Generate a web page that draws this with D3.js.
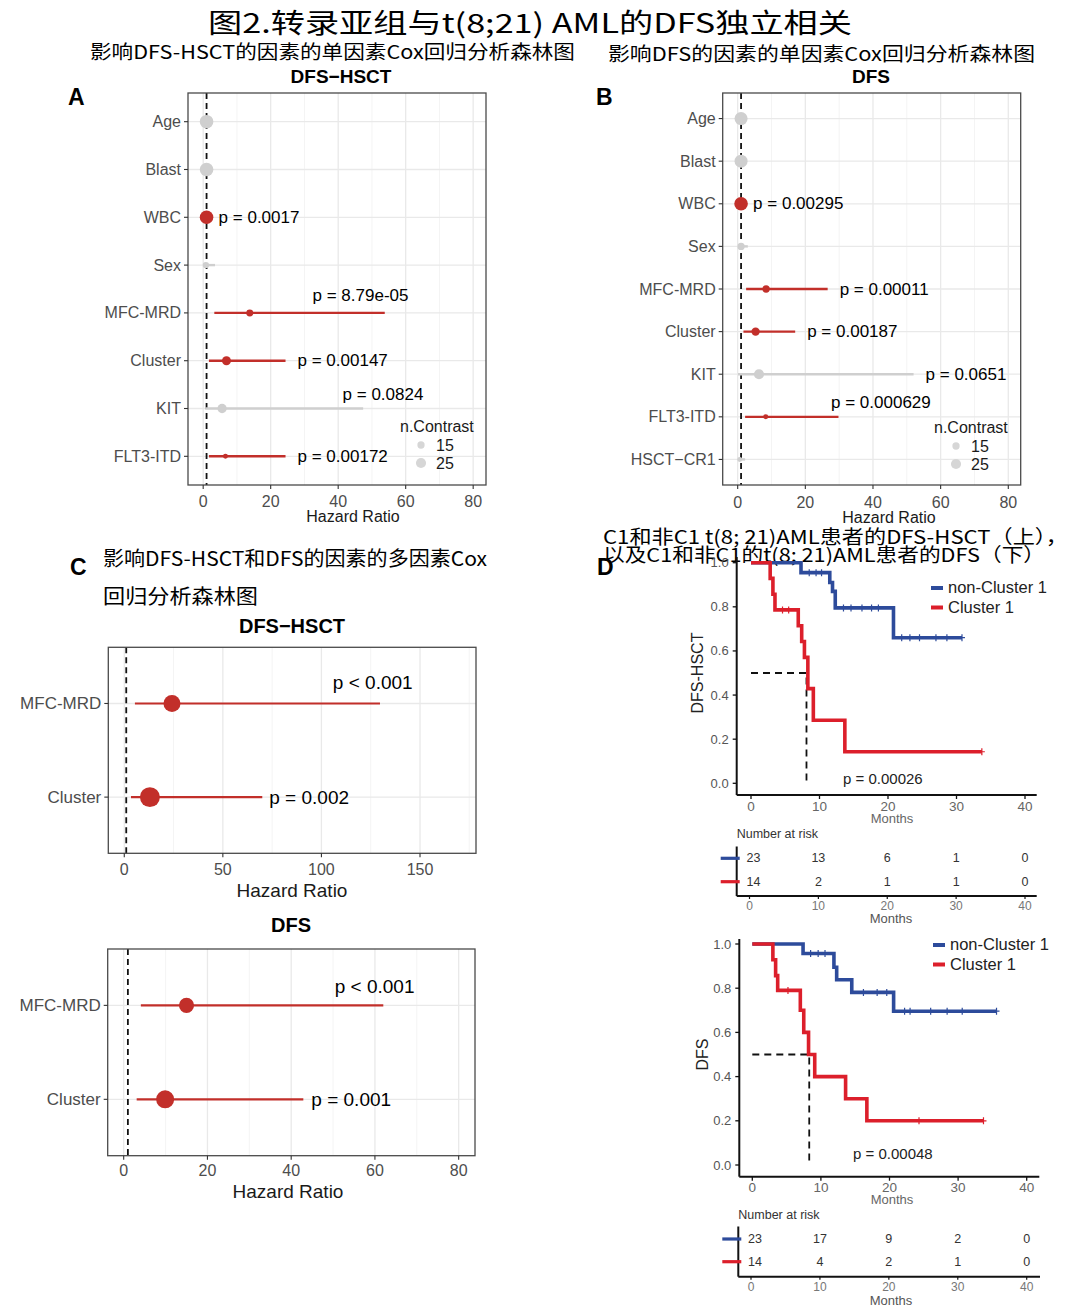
<!DOCTYPE html>
<html><head><meta charset="utf-8">
<script src="https://cdn.jsdelivr.net/npm/d3@7"></script>
<style>body{margin:0;background:#fff}</style>
</head><body>
<svg id="c" width="1080" height="1309"></svg>
<script>
// ---------------- DATA ----------------
const catsA = ["Age","Blast","WBC","Sex","MFC-MRD","Cluster","KIT","FLT3-ITD"];
const hrA   = [1.0, 1.0, 1.0, 0.8, 13.8, 6.9, 5.6, 6.6];
const loA   = [0.98,0.97,0.99,0.3, 3.3, 1.7, 0.6, 1.7];
const hiA   = [1.02,1.03,1.01,3.5, 53.8,24.4,47.4,24.4];
const nA    = [37, 37, 37, 12, 14, 21, 22, 7];
const sigA  = [false,false,true,false,true,true,false,true];
const pA    = ["","","p = 0.0017","","p = 8.79e-05","p = 0.00147","p = 0.0824","p = 0.00172"];

const catsB = ["Age","Blast","WBC","Sex","MFC-MRD","Cluster","KIT","FLT3-ITD","HSCT\u2212CR1"];
const hrB   = [1.0, 1.0, 1.0, 1.0, 8.4, 5.3, 6.3, 8.3, 0.6];
const loB   = [0.98,0.97,0.99,0.4, 2.5, 1.7, 0.1, 2.2, 0.2];
const hiB   = [1.02,1.03,1.01,3.0, 26.6,17.0,52.0,29.8,2.2];
const nB    = [35, 35, 37, 15, 15, 19, 25, 7, 7];
const sigB  = [false,false,true,false,true,true,false,true,false];
const pB    = ["","","p = 0.00295","","p = 0.00011","p = 0.00187","p = 0.0651","p = 0.000629",""];

const legendN = [15, 25];

const catsC  = ["MFC-MRD","Cluster"];
const hrC1   = [24.2, 13.0];
const loC1   = [5.4, 3.4];
const hiC1   = [129.7, 70.0];
const nC1    = [24, 33];
const pC1    = ["p < 0.001","p = 0.002"];
const hrC2   = [15.0, 9.9];
const loC2   = [4.1, 3.1];
const hiC2   = [62.0, 42.9];
const nC2    = [19, 27];
const pC2    = ["p < 0.001","p = 0.001"];

// Kaplan-Meier steps (time, survival after event)
const kmTopNonT = [0, 7.3, 11.5, 11.9, 12.3, 20.8];
const kmTopNonS = [1, 0.955, 0.91, 0.87, 0.795, 0.66];
const kmTopNonEnd = 30.8;
const kmTopNonCens = [8.5, 9.5, 10.3, 13.5, 14.6, 16.2, 17.6, 18.6, 22, 23.2, 24.6, 27, 28.6, 30.8];
const kmTopC1T = [0, 2.8, 3.2, 3.5, 6.9, 7.4, 7.8, 8.3, 9.1, 13.7];
const kmTopC1S = [1, 0.929, 0.857, 0.786, 0.714, 0.643, 0.571, 0.429, 0.286, 0.143];
const kmTopC1End = 33.7;
const kmTopC1Cens = [4.6, 5.5, 33.7];

const kmBotNonT = [0, 7.4, 11.9, 12.3, 14.5, 20.6];
const kmBotNonS = [1, 0.957, 0.895, 0.838, 0.781, 0.696];
const kmBotNonEnd = 35.6;
const kmBotNonCens = [8.5, 9.6, 10.6, 16.2, 18.2, 19.6, 22.2, 23, 26, 28.4, 30.6, 35.6];
const kmBotC1T = [0, 3.0, 3.4, 3.7, 7.0, 7.5, 8.2, 9.1, 13.6, 16.7];
const kmBotC1S = [1, 0.929, 0.857, 0.79, 0.70, 0.60, 0.50, 0.40, 0.30, 0.20];
const kmBotC1End = 33.7;
const kmBotC1Cens = [5.2, 24.3, 33.7];

const medianTop = 8.1, medianBot = 8.3;
const pKmTop = "p = 0.00026", pKmBot = "p = 0.00048";

const riskTimes = [0, 10, 20, 30, 40];
const riskTopNon = [23, 13, 6, 1, 0];
const riskTopC1  = [14, 2, 1, 1, 0];
const riskBotNon = [23, 17, 9, 2, 0];
const riskBotC1  = [14, 4, 2, 1, 0];
const kmTicksX = [0, 10, 20, 30, 40];
const kmTicksY = [0, 0.2, 0.4, 0.6, 0.8, 1.0];
const seriesNames = ["non-Cluster 1", "Cluster 1"];

// ---------------- STYLE ----------------
const svg = d3.select("#c");
const FONT = "'Liberation Sans', Arial, sans-serif";
const CJK = "'Noto Sans CJK SC', sans-serif";
const RED = "#c22f2a", GRAY = "#cfcfcf";
const KMRED = "#dc1f2b", KMBLUE = "#2d4b9b";

function txt(g, s, x, y, o = {}) {
  const t = g.append("text").attr("x", x).attr("y", y).text(s)
    .attr("font-family", o.ff || FONT).attr("font-size", o.fs || 15)
    .attr("fill", o.fill || "#000").attr("text-anchor", o.anchor || "start")
    .attr("dominant-baseline", "central");
  if (o.bold) t.attr("font-weight", "bold");
  if (o.len) t.attr("textLength", o.len).attr("lengthAdjust", "spacingAndGlyphs");
  if (o.rot) t.attr("transform", `rotate(${o.rot},${x},${y})`);
  return t;
}

// ---------------- HEADINGS ----------------
txt(svg, "图2.转录亚组与t(8;21) AML的DFS独立相关", 208, 21, {ff: CJK, fs: 27, len: 644});
txt(svg, "影响DFS-HSCT的因素的单因素Cox回归分析森林图", 90, 50, {ff: CJK, fs: 19, len: 485});
txt(svg, "影响DFS的因素的单因素Cox回归分析森林图", 608, 52, {ff: CJK, fs: 19, len: 427});
txt(svg, "A", 68, 97, {fs: 23, bold: true});
txt(svg, "B", 596, 97, {fs: 23, bold: true});
txt(svg, "DFS\u2212HSCT", 341, 76, {fs: 19, bold: true, anchor: "middle"});
txt(svg, "DFS", 871, 76, {fs: 19, bold: true, anchor: "middle"});

// ---------------- FOREST ----------------
function forest(cfg) {
  const g = svg.append("g");
  const x = d3.scaleLinear().domain(cfg.xDomain).range([cfg.left, cfg.right]);
  const y = d3.scalePoint().domain(cfg.cats).range([cfg.top, cfg.bottom]).padding(0.6);
  const r = cfg.rScale;
  g.append("rect").attr("x", cfg.left).attr("y", cfg.top).attr("width", cfg.right - cfg.left)
    .attr("height", cfg.bottom - cfg.top).attr("fill", "#fff");
  g.selectAll(".mi").data(cfg.minor).join("line")
    .attr("x1", d => x(d)).attr("x2", d => x(d)).attr("y1", cfg.top).attr("y2", cfg.bottom)
    .attr("stroke", "#f3f3f3").attr("stroke-width", 0.9);
  g.selectAll(".ma").data(cfg.ticks).join("line")
    .attr("x1", d => x(d)).attr("x2", d => x(d)).attr("y1", cfg.top).attr("y2", cfg.bottom)
    .attr("stroke", "#e9e9e9").attr("stroke-width", 1.3);
  g.selectAll(".hz").data(cfg.cats).join("line")
    .attr("x1", cfg.left).attr("x2", cfg.right).attr("y1", d => y(d)).attr("y2", d => y(d))
    .attr("stroke", "#e9e9e9").attr("stroke-width", 1.3);
  g.append("line").attr("x1", x(1)).attr("x2", x(1)).attr("y1", cfg.top).attr("y2", cfg.bottom)
    .attr("stroke", "#111").attr("stroke-width", 1.8).attr("stroke-dasharray", "6,4");
  const idx = d3.range(cfg.cats.length);
  g.selectAll(".ci").data(idx).join("line")
    .attr("x1", i => x(cfg.lo[i])).attr("x2", i => x(cfg.hi[i]))
    .attr("y1", i => y(cfg.cats[i])).attr("y2", i => y(cfg.cats[i]))
    .attr("stroke", i => cfg.sig[i] ? RED : GRAY).attr("stroke-width", cfg.lw);
  g.selectAll(".pt").data(idx).join("circle")
    .attr("cx", i => x(cfg.hr[i])).attr("cy", i => y(cfg.cats[i])).attr("r", i => r(cfg.n[i]))
    .attr("fill", i => cfg.sig[i] ? RED : GRAY);
  // p labels
  idx.forEach(i => {
    if (!cfg.p[i]) return;
    const ab = cfg.above[i];
    if (ab) txt(g, cfg.p[i], x(ab[0]), y(cfg.cats[i]) + ab[1], {fs: cfg.pfs});
    else txt(g, cfg.p[i], x(cfg.hi[i]) + cfg.gap, y(cfg.cats[i]), {fs: cfg.pfs});
  });
  g.append("rect").attr("x", cfg.left).attr("y", cfg.top).attr("width", cfg.right - cfg.left)
    .attr("height", cfg.bottom - cfg.top).attr("fill", "none").attr("stroke", "#4a4a4a").attr("stroke-width", 1.3);
  // axes
  g.selectAll(".tk").data(cfg.ticks).join("line")
    .attr("x1", d => x(d)).attr("x2", d => x(d)).attr("y1", cfg.bottom).attr("y2", cfg.bottom + 4)
    .attr("stroke", "#333").attr("stroke-width", 1.1);
  cfg.ticks.forEach(d => txt(g, String(d), x(d), cfg.tickY, {fs: cfg.tfs, fill: "#4d4d4d", anchor: "middle"}));
  cfg.cats.forEach(c => {
    g.append("line").attr("x1", cfg.left - 4).attr("x2", cfg.left).attr("y1", y(c)).attr("y2", y(c))
      .attr("stroke", "#333").attr("stroke-width", 1.1);
    txt(g, c, cfg.left - 7, y(c), {fs: cfg.yfs, fill: "#4d4d4d", anchor: "end"});
  });
  txt(g, "Hazard Ratio", cfg.xlabX, cfg.xlabY, {fs: cfg.xlfs, fill: "#1a1a1a", anchor: "middle"});
  if (cfg.legend) {
    const L = cfg.legend;
    txt(g, "n.Contrast", L.x, L.y, {fs: 16, fill: "#1a1a1a"});
    legendN.forEach((v, k) => {
      g.append("circle").attr("cx", L.cx).attr("cy", L.y + 19 + k * 18).attr("r", r(v)).attr("fill", "#d6d6d6");
      txt(g, String(v), L.cx + 15, L.y + 19 + k * 18, {fs: 16, fill: "#1a1a1a"});
    });
  }
}

const rAB = d3.scaleLinear().domain([5, 37]).range([2.2, 6.8]);
forest({cats: catsA, hr: hrA, lo: loA, hi: hiA, n: nA, sig: sigA, p: pA,
  above: {4: [32.4, -17], 6: [41.3, -14]}, gap: 12, lw: 2.4,
  left: 188, right: 486, top: 93, bottom: 485, xDomain: [-4.5, 83.8],
  ticks: [0, 20, 40, 60, 80], minor: [10, 30, 50, 70], tickY: 501,
  rScale: rAB, pfs: 17, tfs: 16, yfs: 16, xlfs: 16, xlabX: 353, xlabY: 516,
  legend: {x: 400, y: 426, cx: 421}});
forest({cats: catsB, hr: hrB, lo: loB, hi: hiB, n: nB, sig: sigB, p: pB,
  above: {7: [27.6, -14]}, gap: 12, lw: 2.4,
  left: 722.7, right: 1020.7, top: 93, bottom: 485, xDomain: [-4.43, 83.67],
  ticks: [0, 20, 40, 60, 80], minor: [10, 30, 50, 70], tickY: 502,
  rScale: rAB, pfs: 17, tfs: 16, yfs: 16, xlfs: 16, xlabX: 889, xlabY: 517,
  legend: {x: 934, y: 427, cx: 956}});

// Panel C
txt(svg, "C", 70, 567, {fs: 23, bold: true});
txt(svg, "影响DFS-HSCT和DFS的因素的多因素Cox", 103, 557, {ff: CJK, fs: 20, len: 384});
txt(svg, "回归分析森林图", 103, 595, {ff: CJK, fs: 20, len: 155});
txt(svg, "DFS\u2212HSCT", 292, 626, {fs: 20, bold: true, anchor: "middle"});
txt(svg, "DFS", 291, 925, {fs: 20, bold: true, anchor: "middle"});
const rC = d3.scaleSqrt().domain([0, 40]).range([0, 11]);
forest({cats: catsC, hr: hrC1, lo: loC1, hi: hiC1, n: nC1, sig: [true, true], p: pC1,
  above: {0: [105.8, -21]}, gap: 7, lw: 2.2,
  left: 108.3, right: 476, top: 647.3, bottom: 853.3, xDomain: [-8.1, 178.4],
  ticks: [0, 50, 100, 150], minor: [25, 75, 125, 175], tickY: 869,
  rScale: rC, pfs: 19, tfs: 16, yfs: 17, xlfs: 19, xlabX: 292, xlabY: 890});
forest({cats: catsC, hr: hrC2, lo: loC2, hi: hiC2, n: nC2, sig: [true, true], p: pC2,
  above: {0: [50.4, -19]}, gap: 8, lw: 2.2,
  left: 107.7, right: 475, top: 949, bottom: 1155.7, xDomain: [-3.82, 83.9],
  ticks: [0, 20, 40, 60, 80], minor: [10, 30, 50, 70], tickY: 1170,
  rScale: rC, pfs: 19, tfs: 16, yfs: 17, xlfs: 19, xlabX: 288, xlabY: 1191});

// ---------------- KAPLAN-MEIER ----------------
txt(svg, "C1和非C1 t(8; 21)AML患者的DFS-HSCT（上），", 603, 535, {ff: CJK, fs: 19, len: 465});
txt(svg, "以及C1和非C1的t(8; 21)AML患者的DFS（下）", 603, 553, {ff: CJK, fs: 19, len: 442});
txt(svg, "D", 597, 567, {fs: 23, bold: true});

function stepAt(T, S, t) { let s = S[0]; T.forEach((tt, i) => { if (tt <= t) s = S[i]; }); return s; }

function km(cfg) {
  const g = svg.append("g");
  const x = d3.scaleLinear().domain([0, 40]).range([cfg.x0, cfg.x40]);
  const y = d3.scaleLinear().domain([0, 1]).range([cfg.y0, cfg.y1]);
  // axes
  g.append("line").attr("x1", cfg.axL).attr("x2", cfg.axL).attr("y1", cfg.axT).attr("y2", cfg.axB)
    .attr("stroke", "#111").attr("stroke-width", 2);
  g.append("line").attr("x1", cfg.axL).attr("x2", cfg.axR).attr("y1", cfg.axB).attr("y2", cfg.axB)
    .attr("stroke", "#111").attr("stroke-width", 2);
  kmTicksY.forEach(v => {
    g.append("line").attr("x1", cfg.axL - 4).attr("x2", cfg.axL).attr("y1", y(v)).attr("y2", y(v)).attr("stroke", "#111").attr("stroke-width", 1.3);
    txt(g, d3.format(".1f")(v), cfg.axL - 8, y(v), {fs: 13, fill: "#555", anchor: "end"});
  });
  kmTicksX.forEach(v => {
    g.append("line").attr("x1", x(v)).attr("x2", x(v)).attr("y1", cfg.axB).attr("y2", cfg.axB + 4).attr("stroke", "#111").attr("stroke-width", 1.3);
    txt(g, String(v), x(v), cfg.tickY, {fs: 13.5, fill: "#666", anchor: "middle"});
  });
  txt(g, "Months", 892, cfg.monthsY, {fs: 13, fill: "#666", anchor: "middle"});
  txt(g, cfg.ylab, cfg.ylabX, (cfg.y0 + cfg.y1) / 2, {fs: 16, fill: "#222", anchor: "middle", rot: -90});
  // median
  g.append("path").attr("d", `M${x(0)},${y(0.5)}H${x(cfg.median)}V${y(0)}`)
    .attr("fill", "none").attr("stroke", "#111").attr("stroke-width", 1.8).attr("stroke-dasharray", "7,5");
  const line = d3.line().x(d => x(d[0])).y(d => y(d[1])).curve(d3.curveStepAfter);
  cfg.series.forEach(s => {
    const pts = s.T.map((t, i) => [t, s.S[i]]);
    pts.push([s.end, s.S[s.S.length - 1]]);
    g.append("path").attr("d", line(pts)).attr("fill", "none").attr("stroke", s.color)
      .attr("stroke-width", 3.6).attr("stroke-linejoin", "miter");
    s.cens.forEach(t => {
      const yy = y(stepAt(s.T, s.S, t));
      g.append("path").attr("d", `M${x(t)},${yy - 3.5}V${yy + 3.5}M${x(t) - 3},${yy}H${x(t) + 3}`)
        .attr("stroke", s.color).attr("stroke-width", 1.2);
    });
  });
  txt(g, cfg.p, cfg.pX, cfg.pY, {fs: 15, fill: "#222"});
  // legend
  cfg.series.forEach((s, k) => {
    const ly = cfg.legY + k * 19.5;
    g.append("line").attr("x1", cfg.legX - 17).attr("x2", cfg.legX - 5).attr("y1", ly + 1).attr("y2", ly + 1)
      .attr("stroke", s.color).attr("stroke-width", 4);
    txt(g, seriesNames[k], cfg.legX, ly, {fs: 16.5, fill: "#222"});
  });
  // risk table
  const R = cfg.risk;
  const xr = d3.scaleLinear().domain([0, 40]).range([R.x0, R.x40]);
  txt(g, "Number at risk", R.axL, R.titleY, {fs: 12.5, fill: "#333"});
  g.append("line").attr("x1", R.axL).attr("x2", R.axL).attr("y1", R.axT).attr("y2", R.axB).attr("stroke", "#111").attr("stroke-width", 2);
  g.append("line").attr("x1", R.axL).attr("x2", R.axR).attr("y1", R.axB).attr("y2", R.axB).attr("stroke", "#111").attr("stroke-width", 2);
  [R.non, R.c1].forEach((arr, k) => {
    const ry = R.rows[k];
    g.append("line").attr("x1", R.axL - 16).attr("x2", R.axL + 3).attr("y1", ry).attr("y2", ry)
      .attr("stroke", k === 0 ? KMBLUE : KMRED).attr("stroke-width", 3.2);
    arr.forEach((v, i) => txt(g, String(v), xr(riskTimes[i]) + (i === 0 ? 4 : 0), ry, {fs: 12.5, fill: "#333", anchor: "middle"}));
  });
  kmTicksX.forEach(v => {
    g.append("line").attr("x1", xr(v)).attr("x2", xr(v)).attr("y1", R.axB).attr("y2", R.axB + 3).attr("stroke", "#111").attr("stroke-width", 1.2);
    txt(g, String(v), xr(v), R.tickY, {fs: 12, fill: "#777", anchor: "middle"});
  });
  txt(g, "Months", 891, R.monthsY, {fs: 13, fill: "#555", anchor: "middle"});
}

km({x0: 751, x40: 1025, y0: 783.3, y1: 562.7, axL: 736.7, axR: 1036.7, axT: 557, axB: 795,
  tickY: 806.5, monthsY: 818, ylab: "DFS-HSCT", ylabX: 697, median: medianTop,
  p: pKmTop, pX: 843, pY: 778.5, legX: 948, legY: 587,
  series: [
    {T: kmTopNonT, S: kmTopNonS, end: kmTopNonEnd, cens: kmTopNonCens, color: KMBLUE},
    {T: kmTopC1T, S: kmTopC1S, end: kmTopC1End, cens: kmTopC1Cens, color: KMRED}],
  risk: {x0: 749.5, x40: 1025, axL: 736.7, axR: 1036.7, axT: 846.5, axB: 896, rows: [858.3, 881.7],
    titleY: 834, tickY: 906, monthsY: 918, non: riskTopNon, c1: riskTopC1}});

km({x0: 752.3, x40: 1026.7, y0: 1165, y1: 944, axL: 739.3, axR: 1039.3, axT: 939, axB: 1176.7,
  tickY: 1187.5, monthsY: 1199.5, ylab: "DFS", ylabX: 702, median: medianBot,
  p: pKmBot, pX: 853, pY: 1153, legX: 950, legY: 944,
  series: [
    {T: kmBotNonT, S: kmBotNonS, end: kmBotNonEnd, cens: kmBotNonCens, color: KMBLUE},
    {T: kmBotC1T, S: kmBotC1S, end: kmBotC1End, cens: kmBotC1Cens, color: KMRED}],
  risk: {x0: 751, x40: 1026.7, axL: 738.3, axR: 1040, axT: 1226.5, axB: 1276.7, rows: [1239, 1261.7],
    titleY: 1215, tickY: 1287, monthsY: 1300, non: riskBotNon, c1: riskBotC1}});
</script>
</body></html>
